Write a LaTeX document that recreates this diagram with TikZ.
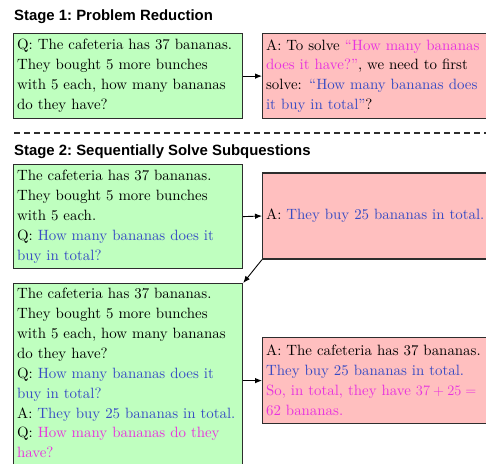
\documentclass[tikz,border=0pt]{standalone}
\usepackage{fontspec}
% body text: the 10pt design of Latin Modern at every size
\setmainfont{lmroman10-regular}[Extension=.otf,
  BoldFont=lmroman10-bold, ItalicFont=lmroman10-italic]
\newfontfamily\titlefont{Liberation Sans}
\usetikzlibrary{arrows.meta}

\definecolor{boxgreen}{RGB}{191,255,191}
\definecolor{boxpink}{RGB}{255,191,191}
\definecolor{boxline}{RGB}{45,45,45}
\definecolor{qblue}{RGB}{55,75,195}
\definecolor{amag}{RGB}{232,50,222}

\newcommand{\bodyfont}{\fontsize{14.9}{19.9}\selectfont}

\tikzset{
  stagetitle/.style={anchor=base west, inner sep=0pt,
    font=\titlefont\bfseries\fontsize{14.9}{18}\selectfont\frenchspacing},
  qbox/.style={draw=boxline, fill=boxgreen, line width=1.2pt,
    inner xsep=3.5pt, inner ysep=4pt, align=left, text width=222pt,
    anchor=north west, font=\bodyfont},
  abox/.style={draw=boxline, fill=boxpink, line width=1.2pt,
    inner xsep=3.5pt, inner ysep=4pt, align=left, text width=240pt,
    anchor=north west, font=\bodyfont},
  conn/.style={draw=black, line width=0.9pt,
    -{Latex[length=7pt,width=5.5pt]}},
  divider/.style={draw=boxline, line width=1.2pt, dash pattern=on 6pt off 4pt}
}

\begin{document}
\begin{tikzpicture}[x=1pt,y=-1pt]
  \useasboundingbox (0,0) rectangle (486,463);
  \clip (0,0) rectangle (486,463);
  \fill[white] (0,0) rectangle (486,463);

  % Stage 1
  \node[stagetitle] (t1) at (14,20) {Stage 1: Problem Reduction};

  \node[qbox, minimum height=85pt] (q1) at (13,33)
    {Q: The cafeteria has 37 bananas.\\
     They bought 5 more bunches\\
     with 5 each, how many bananas\\
     do they have?};

  \node[abox, minimum height=85pt] (a1) at (262,33)
    {A: To solve \textcolor{amag}{“How many bananas}\\
     \textcolor{amag}{does it have?”}, we need to first\\
     solve: \textcolor{qblue}{“How many bananas does}\\
     \textcolor{qblue}{it buy in total”}?};

  \draw[conn] (q1.east) -- (a1.west);

  % divider between the stages
  \coordinate (d0) at (14,133);
  \coordinate (d1) at (500,133);
  \draw[divider] (d0) -- (d1);

  % Stage 2
  \node[stagetitle] (t2) at (14,155) {Stage 2: Sequentially Solve Subquestions};

  \node[qbox, minimum height=104pt] (q2) at (13,164)
    {The cafeteria has 37 bananas.\\
     They bought 5 more bunches\\
     with 5 each.\\
     Q: \textcolor{qblue}{How many bananas does it}\\
     \textcolor{qblue}{buy in total?}};

  \node[abox, minimum height=86pt, anchor=west] (a2) at (262,216)
    {A: \textcolor{qblue}{They buy 25 bananas in total.}};

  \draw[conn] (q2.east) -- (a2.west);

  % the last line carries extra depth so the box runs past the lower edge
  \node[qbox, inner ysep=4.5pt] (q3) at (13,283)
    {The cafeteria has 37 bananas.\\
     They bought 5 more bunches\\
     with 5 each, how many bananas\\
     do they have?\\
     Q: \textcolor{qblue}{How many bananas does it}\\
     \textcolor{qblue}{buy in total?}\\
     A: \textcolor{qblue}{They buy 25 bananas in total.}\\
     Q: \textcolor{amag}{How many bananas do they}\\
     \textcolor{amag}{have?}\rule[-18pt]{0pt}{0pt}};

  \draw[conn] (a2.south west) -- (q3.north east);

  \node[abox, minimum height=86pt] (a3) at (262,337)
    {A: The cafeteria has 37 bananas.\\
     \textcolor{qblue}{They buy 25 bananas in total.}\\
     \textcolor{amag}{So, in total, they have $37+25=$}\\
     \textcolor{amag}{62 bananas.}};

  \draw[conn] (q3.east |- a3.west) -- (a3.west);
\end{tikzpicture}
\end{document}
